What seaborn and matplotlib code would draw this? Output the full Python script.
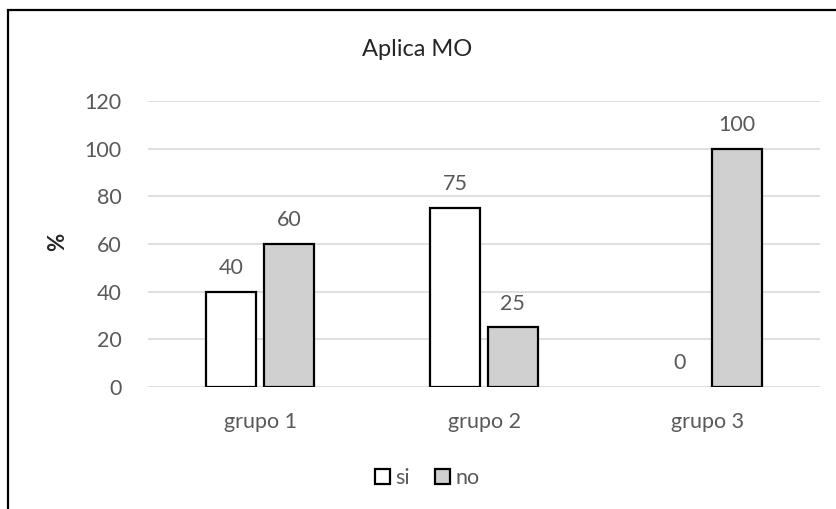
import matplotlib
matplotlib.use("Agg")
import matplotlib.pyplot as plt
from matplotlib.patches import Rectangle
import pandas as pd
import seaborn as sns

# Survey result: share of each group that applies MO
groups = ["grupo 1", "grupo 2", "grupo 3"]
si_values = [40, 75, 0]
no_values = [60, 25, 100]
answers = ["si", "no"]
y_ticks = [0, 20, 40, 60, 80, 100, 120]

df = pd.DataFrame({
    "grupo": groups * 2,
    "respuesta": ["si"] * len(groups) + ["no"] * len(groups),
    "valor": si_values + no_values,
})

sns.set_theme(style="white")
plt.rcParams["font.family"] = ["Lato", "DejaVu Sans"]

text_grey = "#595959"
grid_grey = "#D9D9D9"

fig = plt.figure(figsize=(8.37, 5.09), dpi=100)
ax = fig.add_axes([148 / 837, 1 - 387 / 509, (820 - 148) / 837, (387 - 101) / 509])

sns.barplot(
    data=df, x="grupo", y="valor", hue="respuesta", hue_order=answers,
    order=groups, palette={"si": "white", "no": "#D0D0D0"},
    edgecolor="black", linewidth=1.6, width=0.515, gap=0.13,
    ax=ax, legend=True,
)

# a zero-height bar should not leave an outline on the baseline
for patch in ax.patches:
    if patch.get_height() == 0:
        patch.set_linewidth(0)

for container in ax.containers:
    ax.bar_label(container, fmt="%g", padding=10, fontsize=15.5, color=text_grey)

ax.set_ylim(0, 120)
ax.set_yticks(y_ticks)
ax.yaxis.grid(True, color=grid_grey, linewidth=1.2)
ax.set_axisbelow(True)
for side in ["top", "right", "left", "bottom"]:
    ax.spines[side].set_visible(False)
ax.tick_params(axis="both", length=0, labelsize=15.5, labelcolor=text_grey)
ax.tick_params(axis="y", pad=19)
ax.tick_params(axis="x", pad=18)
ax.set_xlabel("")
ax.set_ylabel("")

fig.text(58 / 837, 1 - 242 / 509, "%", rotation=90, ha="center", va="center",
         fontsize=16, color="#262626", fontweight="bold")
fig.text(417 / 837, 1 - 50 / 509, "Aplica MO", ha="center", va="center",
         fontsize=17, color="#262626")

handles, labels = ax.get_legend_handles_labels()
ax.get_legend().remove()
leg = fig.legend(handles, labels, loc="center", bbox_to_anchor=(427 / 837, 1 - 478 / 509),
                 ncol=2, frameon=False, fontsize=15.5, handlelength=0.7, handleheight=0.7,
                 handletextpad=0.25, columnspacing=1.15, labelcolor=text_grey)
for h in leg.legend_handles:
    h.set_edgecolor("black")
    h.set_linewidth(1.6)

# outer chart frame (right and bottom edges fall outside the image)
fig.patches.append(Rectangle((8 / 837, -0.1), 1.2, 1.1 - 10 / 509, transform=fig.transFigure,
                             fill=False, edgecolor="black", linewidth=1.6))

fig.savefig("out.png", dpi=100)
